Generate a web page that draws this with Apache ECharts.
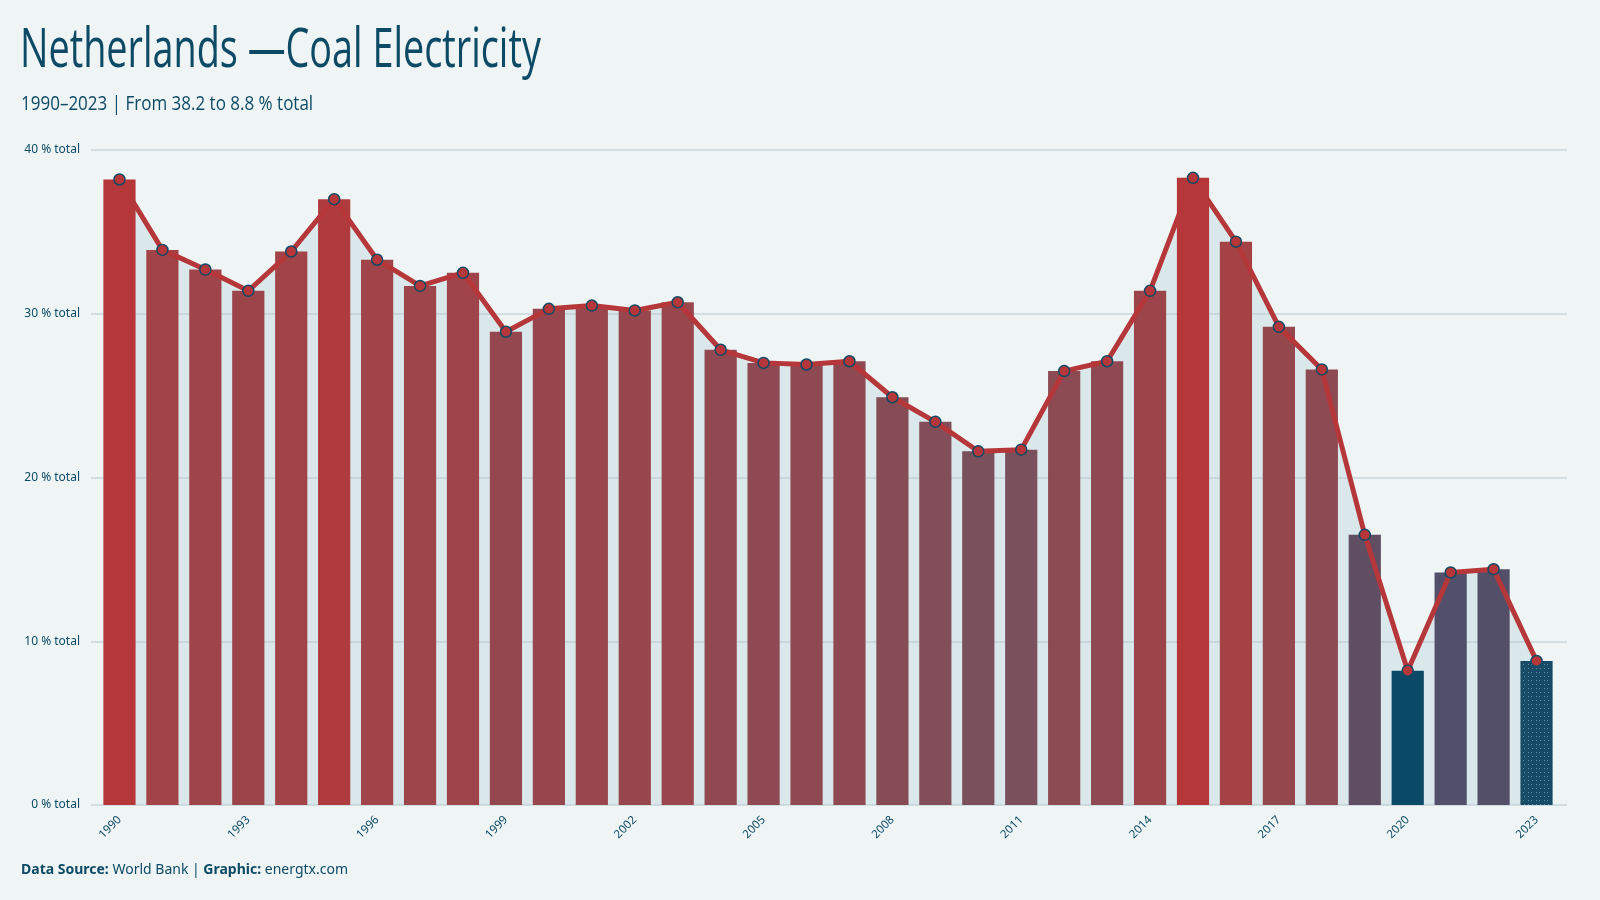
<!DOCTYPE html>
<html>
<head>
<meta charset="utf-8">
<title>Netherlands — Coal Electricity</title>
<script src="https://cdn.jsdelivr.net/npm/echarts@6/dist/echarts.min.js"></script>
<style>
  html, body { margin: 0; padding: 0; background: #eff5f5; }
  #chart { width: 1600px; height: 900px; }
</style>
</head>
<body>
<div id="chart"></div>
<script>
// years and share of coal in electricity (% of total)
const years = [
  '1990', '1991', '1992', '1993', '1994', '1995', '1996', '1997', '1998', '1999',
  '2000', '2001', '2002', '2003', '2004', '2005', '2006', '2007', '2008', '2009',
  '2010', '2011', '2012', '2013', '2014', '2015', '2016', '2017', '2018', '2019',
  '2020', '2021', '2022', '2023'
]
const coalShare = [
  38.2, 33.9, 32.7, 31.4, 33.8, 37.0, 33.3, 31.7, 32.5, 28.9,
  30.3, 30.5, 30.2, 30.7, 27.8, 27.0, 26.9, 27.1, 24.9, 23.4,
  21.6, 21.7, 26.5, 27.1, 31.4, 38.3, 34.4, 29.2, 26.6, 16.5,
  8.2, 14.2, 14.4, 8.8
]
const yTicks = [0, 10, 20, 30, 40]

const textColor = '#0d4a66'
const condensed = 'Open Sans, sans-serif'

// bar colour goes from blue (low) to red (high)
const colorStops = [
  [8.2, [11, 74, 102]],
  [10.5, [60, 77, 104]],
  [14.3, [82, 79, 105]],
  [21.6, [122, 80, 92]],
  [28.0, [146, 72, 80]],
  [33.9, [162, 67, 72]],
  [38.3, [181, 55, 58]]
]

function colorFor(v) {
  if (v <= colorStops[0][0]) return rgb(colorStops[0][1])
  for (let i = 1; i < colorStops.length; i++) {
    const [v1, c1] = colorStops[i]
    const [v0, c0] = colorStops[i - 1]
    if (v <= v1) {
      const t = (v - v0) / (v1 - v0)
      return rgb(c0.map((c, k) => c + (c1[k] - c) * t))
    }
  }
  return rgb(colorStops[colorStops.length - 1][1])
}

function rgb(c) {
  return 'rgb(' + c.map(x => Math.round(x)).join(',') + ')'
}

const barData = coalShare.map((v, i) => {
  const item = { value: v, itemStyle: { color: colorFor(v) } }
  if (years[i] === '2023') {
    item.itemStyle.decal = {
      symbol: 'rect',
      symbolSize: 1,
      color: 'rgba(120,170,190,0.7)',
      dashArrayX: [[1, 3], [1, 2, 1, 4]],
      dashArrayY: [1, 3],
      rotation: 0
    }
  }
  if (years[i] === '2019') {
    item.itemStyle.decal = {
      symbol: 'rect',
      symbolSize: 1,
      color: 'rgba(150,60,70,0.35)',
      dashArrayX: [1, 2],
      dashArrayY: [1, 2],
      rotation: 0
    }
  }
  return item
})

const chart = echarts.init(document.getElementById('chart'))

const option = {
  backgroundColor: '#eff5f5',
  animation: false,
  aria: { enabled: true, decal: { show: false } },
  graphic: [
    {
      type: 'text',
      left: 20,
      top: 25,
      scaleX: 0.7,
      style: {
        text: 'Netherlands —Coal Electricity',
        font: 'normal 54px ' + condensed,
        fill: textColor
      }
    },
    {
      type: 'text',
      left: 21,
      top: 94,
      scaleX: 0.85,
      style: {
        text: '1990–2023 | From 38.2 to 8.8 % total',
        font: 'normal 20px ' + condensed,
        fill: textColor
      }
    }
  ],
  title: {
    text: '{b|Data Source:} World Bank | {b|Graphic:} energtx.com',
    left: 21,
    top: 863,
    padding: 0,
    textStyle: {
      fontFamily: 'Noto Sans, sans-serif',
      fontSize: 14,
      fontWeight: 'normal',
      color: textColor,
      rich: {
        b: { fontFamily: 'Noto Sans, sans-serif', fontSize: 14, fontWeight: 'bold', color: textColor }
      }
    }
  },
  grid: [
    // main plot
    { left: 98, right: 42, top: 150, bottom: 95 },
    // wider grid that only carries the horizontal guide lines
    { left: 91, right: 33, top: 150, bottom: 95 }
  ],
  xAxis: [
    {
      type: 'category',
      gridIndex: 0,
      data: years,
      boundaryGap: true,
      axisLine: { show: false },
      axisTick: { show: false },
      axisLabel: {
        interval: 2,
        rotate: 45,
        margin: 13,
        fontSize: 11.5,
        fontFamily: 'Noto Sans, sans-serif',
        color: textColor
      }
    },
    {
      type: 'value',
      gridIndex: 1,
      show: false
    }
  ],
  yAxis: [
    {
      type: 'value',
      gridIndex: 0,
      min: yTicks[0],
      max: yTicks[yTicks.length - 1],
      interval: 10,
      axisLine: { show: false },
      axisTick: { show: false },
      axisLabel: { show: false },
      splitLine: { show: false }
    },
    {
      type: 'value',
      gridIndex: 1,
      min: yTicks[0],
      max: yTicks[yTicks.length - 1],
      interval: 10,
      z: 0,
      axisLine: { show: false },
      axisTick: { show: false },
      axisLabel: {
        margin: 11,
        fontSize: 12,
        fontFamily: 'Noto Sans, sans-serif',
        color: textColor,
        formatter: v => v + ' % total'
      },
      splitLine: { lineStyle: { color: '#d3dee2', width: 2 } }
    }
  ],
  series: [
    {
      // shaded area under the line, behind the bars
      name: 'area',
      type: 'line',
      data: coalShare,
      z: 1,
      symbol: 'none',
      lineStyle: { width: 0 },
      areaStyle: { color: 'rgba(170,198,210,0.4)' },
      silent: true
    },
    {
      name: 'Coal Electricity',
      type: 'bar',
      data: barData,
      z: 2,
      barCategoryGap: '25%'
    },
    {
      name: 'Coal Electricity line',
      type: 'line',
      data: coalShare,
      z: 3,
      symbol: 'circle',
      symbolSize: 11,
      lineStyle: { color: '#b5373a', width: 5 },
      itemStyle: { color: '#b5373a', borderColor: '#0d4a66', borderWidth: 1.5 }
    }
  ]
}

chart.setOption(option)
</script>
</body>
</html>
